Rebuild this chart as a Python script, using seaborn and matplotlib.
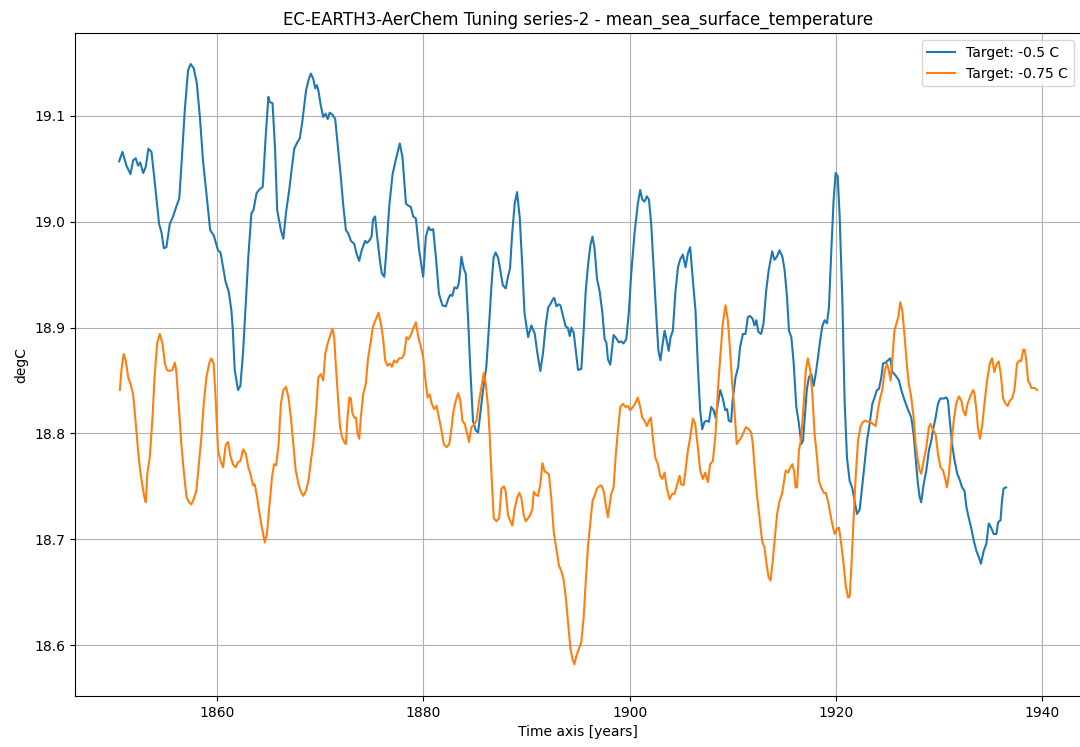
import matplotlib
matplotlib.use("Agg")
import matplotlib.pyplot as plt
import numpy as np
import pandas as pd
import seaborn as sns

TITLE = "EC-EARTH3-AerChem Tuning series-2 - mean_sea_surface_temperature"
LABEL_A = "Target: -0.5 C"
LABEL_B = "Target: -0.75 C"

# Running-mean sea surface temperature, series "Target: -0.5 C"
years_a = [
    1850.46, 1850.79, 1851.17, 1851.56, 1851.82, 1852.07, 1852.3, 1852.5, 1852.8, 1853.05,
    1853.3, 1853.6, 1853.9, 1854.34, 1854.57, 1854.8, 1855.05, 1855.38, 1855.7, 1856.0,
    1856.3, 1856.5, 1856.83, 1857.15, 1857.4, 1857.7, 1858.0, 1858.3, 1858.6, 1858.9,
    1859.3, 1859.65, 1860.06, 1860.3, 1860.55, 1860.8, 1861.1, 1861.36, 1861.5, 1861.68,
    1862.0, 1862.23, 1862.5, 1862.75, 1863.0, 1863.3, 1863.5, 1863.8, 1864.04, 1864.4,
    1864.7, 1864.95, 1865.08, 1865.35, 1865.6, 1865.8, 1866.16, 1866.4, 1866.65, 1866.97,
    1867.2, 1867.46, 1867.7, 1868.0, 1868.26, 1868.6, 1868.85, 1869.07, 1869.3, 1869.5,
    1869.65, 1869.8, 1870.03, 1870.27, 1870.5, 1870.7, 1870.9, 1871.17, 1871.43, 1871.66,
    1871.98, 1872.2, 1872.47, 1872.7, 1872.95, 1873.28, 1873.5, 1873.76, 1874.0, 1874.34,
    1874.5, 1874.73, 1874.96, 1875.1, 1875.3, 1875.5, 1875.8, 1875.96, 1876.2, 1876.4,
    1876.67, 1877.0, 1877.3, 1877.7, 1877.96, 1878.3, 1878.55, 1878.77, 1879.0, 1879.26,
    1879.58, 1879.97, 1880.23, 1880.5, 1880.7, 1880.94, 1881.2, 1881.5, 1881.84, 1882.16,
    1882.4, 1882.6, 1882.8, 1883.0, 1883.26, 1883.45, 1883.68, 1883.9, 1884.1, 1884.33,
    1884.55, 1884.8, 1885.07, 1885.3, 1885.52, 1885.78, 1886.1, 1886.36, 1886.6, 1886.8,
    1887.0, 1887.24, 1887.46, 1887.7, 1887.98, 1888.2, 1888.4, 1888.6, 1888.85, 1889.08,
    1889.34, 1889.6, 1889.8, 1890.15, 1890.47, 1890.8, 1891.05, 1891.34, 1891.6, 1891.86,
    1892.1, 1892.3, 1892.57, 1892.7, 1892.9, 1893.1, 1893.3, 1893.54, 1893.8, 1894.0,
    1894.2, 1894.35, 1894.58, 1894.77, 1895.0, 1895.32, 1895.55, 1895.74, 1895.97, 1896.2,
    1896.4, 1896.6, 1896.84, 1897.1, 1897.36, 1897.58, 1897.75, 1897.9, 1898.13, 1898.45,
    1898.7, 1898.97, 1899.2, 1899.4, 1899.68, 1899.94, 1900.16, 1900.48, 1900.8, 1901.03,
    1901.23, 1901.45, 1901.68, 1901.88, 1902.1, 1902.33, 1902.6, 1902.8, 1903.0, 1903.17,
    1903.4, 1903.6, 1903.8, 1903.98, 1904.2, 1904.46, 1904.7, 1904.9, 1905.17, 1905.43,
    1905.66, 1905.88, 1906.14, 1906.4, 1906.63, 1906.85, 1907.05, 1907.27, 1907.5, 1907.7,
    1907.92, 1908.15, 1908.34, 1908.57, 1908.8, 1909.05, 1909.28, 1909.47, 1909.63, 1909.86,
    1910.0, 1910.28, 1910.54, 1910.73, 1911.0, 1911.25, 1911.48, 1911.7, 1911.96, 1912.12,
    1912.3, 1912.5, 1912.77, 1913.0, 1913.26, 1913.5, 1913.84, 1914.06, 1914.3, 1914.55,
    1914.83, 1915.05, 1915.28, 1915.47, 1915.7, 1915.93, 1916.18, 1916.44, 1916.67, 1916.83,
    1917.0, 1917.2, 1917.4, 1917.64, 1917.87, 1918.06, 1918.29, 1918.5, 1918.7, 1918.93,
    1919.16, 1919.35, 1919.58, 1919.8, 1920.0, 1920.2, 1920.39, 1920.65, 1920.87, 1921.1,
    1921.36, 1921.6, 1921.84, 1922.07, 1922.33, 1922.6, 1922.8, 1923.04, 1923.3, 1923.56,
    1923.78, 1924.0, 1924.2, 1924.43, 1924.6, 1924.85, 1925.07, 1925.3, 1925.5, 1925.72,
    1925.95, 1926.14, 1926.37, 1926.7, 1927.0, 1927.34, 1927.57, 1927.76, 1927.99, 1928.15,
    1928.3, 1928.54, 1928.8, 1929.05, 1929.28, 1929.5, 1929.7, 1929.93, 1930.15, 1930.5,
    1930.75, 1930.9, 1931.08, 1931.3, 1931.53, 1931.8, 1932.05, 1932.27, 1932.5, 1932.7,
    1932.9, 1933.15, 1933.4, 1933.66, 1933.9, 1934.1, 1934.37, 1934.63, 1934.86, 1935.09,
    1935.34, 1935.6, 1935.76, 1936.0, 1936.15, 1936.3, 1936.54,
]
sst_a = [
    19.057, 19.066, 19.053, 19.045, 19.058, 19.060, 19.053, 19.056, 19.046, 19.052,
    19.069, 19.066, 19.039, 18.998, 18.990, 18.975, 18.976, 18.998, 19.005, 19.014,
    19.022, 19.052, 19.105, 19.143, 19.149, 19.145, 19.131, 19.099, 19.058, 19.030,
    18.992, 18.987, 18.973, 18.971, 18.957, 18.943, 18.934, 18.916, 18.897, 18.860,
    18.841, 18.845, 18.878, 18.923, 18.967, 19.008, 19.011, 19.027, 19.030, 19.033,
    19.083, 19.118, 19.113, 19.112, 19.068, 19.011, 18.992, 18.984, 19.008, 19.030,
    19.049, 19.069, 19.074, 19.079, 19.096, 19.124, 19.134, 19.140, 19.135, 19.126,
    19.129, 19.124, 19.110, 19.099, 19.102, 19.097, 19.103, 19.101, 19.097, 19.074,
    19.042, 19.017, 18.992, 18.989, 18.982, 18.979, 18.970, 18.963, 18.973, 18.982,
    18.980, 18.982, 18.986, 19.002, 19.005, 18.986, 18.961, 18.951, 18.948, 18.973,
    19.014, 19.045, 19.058, 19.074, 19.061, 19.017, 19.015, 19.014, 19.005, 19.003,
    18.973, 18.948, 18.986, 18.995, 18.992, 18.993, 18.967, 18.932, 18.921, 18.920,
    18.927, 18.931, 18.930, 18.938, 18.937, 18.943, 18.967, 18.956, 18.951, 18.908,
    18.860, 18.812, 18.803, 18.801, 18.819, 18.841, 18.863, 18.902, 18.940, 18.966,
    18.971, 18.966, 18.954, 18.940, 18.937, 18.948, 18.956, 18.988, 19.017, 19.028,
    19.004, 18.956, 18.914, 18.891, 18.902, 18.894, 18.876, 18.859, 18.876, 18.902,
    18.919, 18.922, 18.927, 18.928, 18.920, 18.922, 18.921, 18.911, 18.901, 18.900,
    18.892, 18.900, 18.895, 18.879, 18.860, 18.861, 18.898, 18.934, 18.959, 18.978,
    18.986, 18.975, 18.946, 18.934, 18.914, 18.889, 18.886, 18.870, 18.865, 18.893,
    18.890, 18.886, 18.887, 18.885, 18.889, 18.916, 18.951, 18.989, 19.017, 19.030,
    19.021, 19.019, 19.024, 19.021, 18.998, 18.957, 18.910, 18.878, 18.869, 18.882,
    18.897, 18.888, 18.878, 18.891, 18.897, 18.935, 18.957, 18.964, 18.969, 18.957,
    18.970, 18.976, 18.945, 18.916, 18.863, 18.822, 18.804, 18.811, 18.812, 18.811,
    18.825, 18.822, 18.815, 18.828, 18.841, 18.833, 18.822, 18.823, 18.812, 18.811,
    18.831, 18.853, 18.863, 18.882, 18.894, 18.894, 18.910, 18.911, 18.908, 18.902,
    18.907, 18.896, 18.894, 18.904, 18.935, 18.954, 18.972, 18.964, 18.967, 18.973,
    18.967, 18.954, 18.929, 18.897, 18.891, 18.866, 18.825, 18.809, 18.790, 18.793,
    18.815, 18.841, 18.853, 18.856, 18.845, 18.856, 18.872, 18.888, 18.901, 18.907,
    18.904, 18.919, 18.973, 19.020, 19.046, 19.043, 19.005, 18.926, 18.831, 18.777,
    18.755, 18.749, 18.736, 18.724, 18.728, 18.752, 18.771, 18.793, 18.809, 18.828,
    18.834, 18.841, 18.842, 18.853, 18.866, 18.867, 18.869, 18.871, 18.858, 18.856,
    18.853, 18.850, 18.841, 18.831, 18.823, 18.815, 18.799, 18.777, 18.752, 18.740,
    18.735, 18.752, 18.765, 18.784, 18.793, 18.806, 18.815, 18.828, 18.833, 18.833,
    18.834, 18.831, 18.812, 18.790, 18.775, 18.762, 18.756, 18.749, 18.746, 18.730,
    18.721, 18.711, 18.699, 18.689, 18.683, 18.677, 18.689, 18.696, 18.715, 18.711,
    18.705, 18.705, 18.716, 18.718, 18.737, 18.748, 18.749,
]

# Running-mean sea surface temperature, series "Target: -0.75 C"
years_b = [
    1850.53, 1850.69, 1850.9, 1851.1, 1851.34, 1851.56, 1851.82, 1852.08, 1852.3, 1852.5,
    1852.7, 1852.9, 1853.05, 1853.2, 1853.44, 1853.7, 1853.9, 1854.15, 1854.4, 1854.67,
    1854.9, 1855.1, 1855.37, 1855.64, 1855.86, 1856.0, 1856.28, 1856.5, 1856.73, 1857.0,
    1857.25, 1857.48, 1857.7, 1857.96, 1858.2, 1858.45, 1858.67, 1858.93, 1859.2, 1859.4,
    1859.64, 1859.84, 1860.06, 1860.3, 1860.55, 1860.8, 1861.03, 1861.26, 1861.5, 1861.78,
    1862.0, 1862.23, 1862.5, 1862.75, 1863.0, 1863.2, 1863.46, 1863.62, 1863.85, 1864.04,
    1864.3, 1864.6, 1864.8, 1865.03, 1865.3, 1865.5, 1865.7, 1865.94, 1866.16, 1866.4,
    1866.65, 1866.9, 1867.13, 1867.36, 1867.6, 1867.88, 1868.1, 1868.33, 1868.6, 1868.85,
    1869.07, 1869.3, 1869.56, 1869.8, 1870.03, 1870.27, 1870.46, 1870.7, 1870.9, 1871.17,
    1871.33, 1871.5, 1871.72, 1871.9, 1872.08, 1872.3, 1872.47, 1872.63, 1872.8, 1872.95,
    1873.1, 1873.28, 1873.44, 1873.6, 1873.76, 1873.92, 1874.15, 1874.4, 1874.63, 1874.9,
    1875.1, 1875.38, 1875.64, 1875.86, 1876.1, 1876.28, 1876.5, 1876.73, 1876.93, 1877.15,
    1877.38, 1877.64, 1877.9, 1878.12, 1878.35, 1878.55, 1878.77, 1879.0, 1879.26, 1879.5,
    1879.74, 1879.97, 1880.16, 1880.4, 1880.6, 1880.8, 1881.03, 1881.26, 1881.5, 1881.74,
    1881.97, 1882.23, 1882.5, 1882.7, 1882.87, 1883.13, 1883.36, 1883.58, 1883.78, 1884.0,
    1884.23, 1884.42, 1884.65, 1884.88, 1885.14, 1885.4, 1885.62, 1885.85, 1886.04, 1886.27,
    1886.43, 1886.6, 1886.82, 1887.08, 1887.34, 1887.56, 1887.8, 1887.98, 1888.2, 1888.43,
    1888.63, 1888.85, 1889.08, 1889.3, 1889.5, 1889.73, 1889.92, 1890.15, 1890.37, 1890.57,
    1890.7, 1890.9, 1891.12, 1891.34, 1891.54, 1891.76, 1892.0, 1892.18, 1892.4, 1892.64,
    1892.9, 1893.15, 1893.38, 1893.6, 1893.8, 1894.03, 1894.25, 1894.45, 1894.64, 1894.84,
    1895.1, 1895.32, 1895.55, 1895.74, 1895.97, 1896.2, 1896.4, 1896.6, 1896.84, 1897.03,
    1897.26, 1897.5, 1897.68, 1897.9, 1898.22, 1898.45, 1898.64, 1898.87, 1899.1, 1899.35,
    1899.6, 1899.84, 1900.06, 1900.32, 1900.58, 1900.8, 1901.03, 1901.23, 1901.45, 1901.68,
    1901.88, 1902.07, 1902.26, 1902.5, 1902.75, 1902.97, 1903.17, 1903.4, 1903.6, 1903.88,
    1904.14, 1904.36, 1904.6, 1904.85, 1905.0, 1905.24, 1905.43, 1905.66, 1905.88, 1906.14,
    1906.37, 1906.63, 1906.85, 1907.11, 1907.34, 1907.6, 1907.82, 1908.08, 1908.34, 1908.57,
    1908.8, 1909.05, 1909.31, 1909.54, 1909.76, 1909.96, 1910.18, 1910.4, 1910.6, 1910.83,
    1911.06, 1911.3, 1911.57, 1911.8, 1911.96, 1912.16, 1912.35, 1912.6, 1912.87, 1913.1,
    1913.3, 1913.5, 1913.68, 1913.9, 1914.13, 1914.32, 1914.55, 1914.8, 1915.15, 1915.38,
    1915.6, 1915.8, 1915.96, 1916.12, 1916.25, 1916.44, 1916.67, 1916.9, 1917.1, 1917.3,
    1917.54, 1917.74, 1917.96, 1918.2, 1918.38, 1918.6, 1918.84, 1919.03, 1919.26, 1919.48,
    1919.68, 1919.9, 1920.13, 1920.32, 1920.55, 1920.78, 1920.97, 1921.2, 1921.36, 1921.52,
    1921.75, 1921.94, 1922.17, 1922.4, 1922.65, 1922.9, 1923.14, 1923.36, 1923.62, 1923.88,
    1924.1, 1924.33, 1924.53, 1924.75, 1924.98, 1925.17, 1925.33, 1925.5, 1925.7, 1925.9,
    1926.08, 1926.27, 1926.47, 1926.7, 1926.9, 1927.1, 1927.34, 1927.57, 1927.76, 1927.99,
    1928.15, 1928.3, 1928.54, 1928.8, 1929.05, 1929.2, 1929.43, 1929.7, 1929.93, 1930.17,
    1930.43, 1930.66, 1930.8, 1931.0, 1931.2, 1931.46, 1931.7, 1931.95, 1932.2, 1932.37,
    1932.6, 1932.8, 1933.1, 1933.34, 1933.47, 1933.66, 1933.8, 1934.0, 1934.2, 1934.44,
    1934.7, 1934.96, 1935.18, 1935.4, 1935.6, 1935.83, 1936.05, 1936.25, 1936.5, 1936.7,
    1936.9, 1937.12, 1937.35, 1937.6, 1937.83, 1938.0, 1938.2, 1938.35, 1938.5, 1938.67,
    1938.84, 1939.0, 1939.16, 1939.3, 1939.55,
]
sst_b = [
    18.841, 18.860, 18.875, 18.869, 18.853, 18.847, 18.837, 18.809, 18.784, 18.765,
    18.752, 18.740, 18.735, 18.762, 18.778, 18.815, 18.853, 18.885, 18.894, 18.885,
    18.866, 18.860, 18.859, 18.860, 18.867, 18.860, 18.822, 18.790, 18.765, 18.740,
    18.735, 18.733, 18.738, 18.746, 18.771, 18.797, 18.828, 18.853, 18.866, 18.871,
    18.866, 18.831, 18.784, 18.774, 18.768, 18.789, 18.792, 18.779, 18.771, 18.768,
    18.773, 18.774, 18.785, 18.781, 18.768, 18.762, 18.751, 18.752, 18.740, 18.727,
    18.712, 18.697, 18.705, 18.730, 18.759, 18.771, 18.770, 18.790, 18.828, 18.841,
    18.844, 18.834, 18.815, 18.790, 18.765, 18.752, 18.745, 18.741, 18.746, 18.756,
    18.774, 18.790, 18.819, 18.853, 18.856, 18.850, 18.875, 18.885, 18.891, 18.899,
    18.891, 18.863, 18.831, 18.806, 18.797, 18.792, 18.790, 18.815, 18.834, 18.833,
    18.819, 18.815, 18.815, 18.800, 18.795, 18.815, 18.837, 18.847, 18.872, 18.888,
    18.901, 18.908, 18.914, 18.904, 18.888, 18.869, 18.864, 18.866, 18.863, 18.869,
    18.867, 18.871, 18.871, 18.875, 18.891, 18.889, 18.893, 18.899, 18.905, 18.891,
    18.882, 18.872, 18.853, 18.834, 18.837, 18.828, 18.823, 18.826, 18.815, 18.803,
    18.790, 18.787, 18.790, 18.803, 18.819, 18.831, 18.838, 18.831, 18.812, 18.809,
    18.800, 18.792, 18.806, 18.808, 18.812, 18.831, 18.844, 18.857, 18.847, 18.825,
    18.797, 18.761, 18.720, 18.717, 18.720, 18.748, 18.750, 18.745, 18.723, 18.717,
    18.713, 18.729, 18.739, 18.744, 18.739, 18.723, 18.717, 18.720, 18.723, 18.729,
    18.745, 18.742, 18.741, 18.752, 18.772, 18.764, 18.763, 18.761, 18.739, 18.707,
    18.691, 18.675, 18.670, 18.662, 18.646, 18.621, 18.598, 18.587, 18.582, 18.590,
    18.597, 18.603, 18.627, 18.659, 18.694, 18.717, 18.736, 18.741, 18.748, 18.750,
    18.751, 18.745, 18.733, 18.721, 18.743, 18.749, 18.777, 18.803, 18.825, 18.828,
    18.825, 18.826, 18.822, 18.825, 18.829, 18.834, 18.825, 18.815, 18.812, 18.807,
    18.812, 18.815, 18.796, 18.777, 18.771, 18.760, 18.757, 18.763, 18.749, 18.738,
    18.743, 18.743, 18.751, 18.760, 18.752, 18.751, 18.765, 18.784, 18.796, 18.814,
    18.809, 18.787, 18.765, 18.757, 18.763, 18.754, 18.771, 18.774, 18.799, 18.841,
    18.872, 18.904, 18.921, 18.907, 18.878, 18.847, 18.822, 18.790, 18.793, 18.796,
    18.801, 18.806, 18.804, 18.801, 18.790, 18.765, 18.743, 18.721, 18.698, 18.692,
    18.676, 18.664, 18.661, 18.680, 18.705, 18.724, 18.736, 18.743, 18.765, 18.763,
    18.768, 18.771, 18.765, 18.749, 18.749, 18.784, 18.796, 18.828, 18.859, 18.871,
    18.859, 18.837, 18.799, 18.777, 18.755, 18.749, 18.744, 18.744, 18.736, 18.724,
    18.714, 18.705, 18.710, 18.711, 18.695, 18.676, 18.657, 18.645, 18.646, 18.673,
    18.721, 18.758, 18.793, 18.806, 18.811, 18.812, 18.811, 18.811, 18.809, 18.807,
    18.822, 18.834, 18.841, 18.859, 18.866, 18.859, 18.850, 18.869, 18.897, 18.904,
    18.910, 18.924, 18.916, 18.891, 18.866, 18.847, 18.834, 18.815, 18.790, 18.774,
    18.765, 18.762, 18.774, 18.787, 18.806, 18.809, 18.804, 18.799, 18.781, 18.768,
    18.765, 18.756, 18.749, 18.762, 18.787, 18.812, 18.828, 18.835, 18.831, 18.822,
    18.817, 18.828, 18.836, 18.841, 18.838, 18.822, 18.806, 18.795, 18.806, 18.828,
    18.850, 18.866, 18.871, 18.858, 18.865, 18.868, 18.854, 18.833, 18.828, 18.826,
    18.831, 18.833, 18.841, 18.866, 18.869, 18.868, 18.879, 18.879, 18.869, 18.850,
    18.847, 18.843, 18.843, 18.843, 18.841,
]

df = pd.concat([
    pd.DataFrame({"year": years_a, "degC": sst_a, "series": LABEL_A}),
    pd.DataFrame({"year": years_b, "degC": sst_b, "series": LABEL_B}),
], ignore_index=True)

fig = plt.figure(figsize=(10.8, 7.47), dpi=100)
# The right edge of the axes sits just past the canvas, so the right spine is cut off
ax = fig.add_axes([74.7 / 1080, 1 - 696 / 747, (1081.5 - 74.7) / 1080, (696 - 33.3) / 747])

sns.lineplot(data=df, x="year", y="degC", hue="series",
             palette=["#1f77b4", "#ff7f0e"], linewidth=1.5,
             estimator=None, sort=True, ax=ax)

ax.set_xlim(1846.15, 1943.86)
ax.set_ylim(18.552, 19.178)
ax.set_xticks([1860, 1880, 1900, 1920, 1940])
ax.set_yticks([18.6, 18.7, 18.8, 18.9, 19.0, 19.1])
ax.grid(True, color="#b0b0b0", linewidth=0.8)
ax.tick_params(labelsize=10)

ax.set_title(TITLE, fontsize=12)
ax.set_xlabel("Time axis [years]", fontsize=10)
ax.set_ylabel("degC", fontsize=10)

leg = ax.get_legend()
handles = leg.legend_handles
labels = [t.get_text() for t in leg.get_texts()]
for h in handles:
    h.set_linewidth(1.5)
ax.legend(handles, labels, loc="upper right", fontsize=10,
          bbox_to_anchor=(1 - 1.0 / (1081.5 - 74.7), 1.0))

fig.savefig("out.png", dpi=100)
